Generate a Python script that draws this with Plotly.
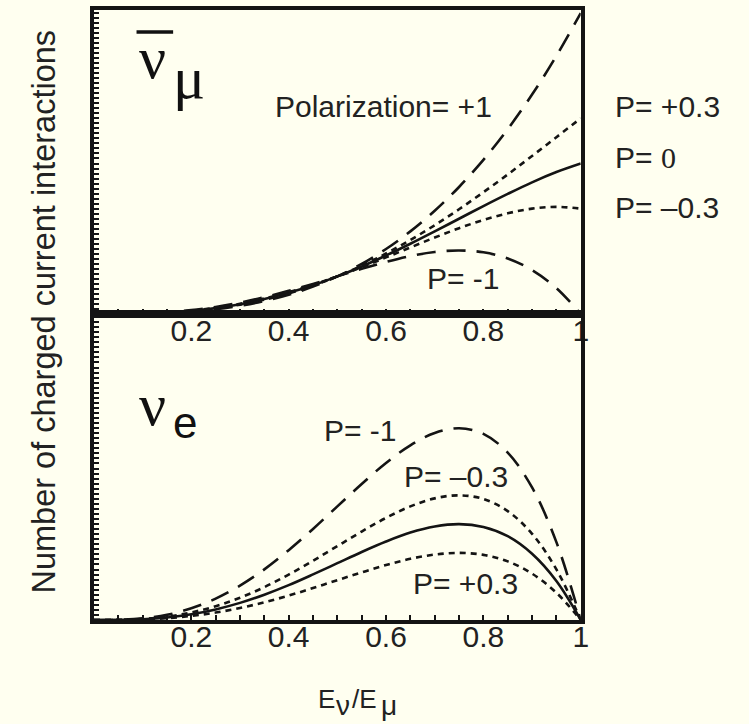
import plotly.graph_objects as go

# Neutrino energy fraction E_nu / E_mu
x_frac = [0.0, 0.05, 0.1, 0.15, 0.2, 0.25, 0.3, 0.35, 0.4, 0.45, 0.5,
          0.55, 0.6, 0.65, 0.7, 0.75, 0.8, 0.85, 0.9, 0.95, 1.0]

# anti-nu_mu charged current interactions for several muon polarizations
numubar_p_plus1 = [0, 0, 0.002, 0.007, 0.016, 0.031, 0.054, 0.086, 0.128, 0.182, 0.25,
                   0.333, 0.432, 0.549, 0.686, 0.844, 1.024, 1.228, 1.458, 1.715, 2.0]
numubar_p_plus03 = [0, 0, 0.003, 0.008, 0.019, 0.037, 0.062, 0.095, 0.137, 0.189, 0.25,
                    0.321, 0.402, 0.492, 0.59, 0.696, 0.809, 0.927, 1.05, 1.175, 1.3]
numubar_p_zero = [0, 0, 0.003, 0.009, 0.021, 0.039, 0.065, 0.099, 0.141, 0.191, 0.25,
                  0.316, 0.389, 0.467, 0.549, 0.633, 0.717, 0.798, 0.875, 0.943, 1.0]
numubar_p_minus03 = [0, 0, 0.003, 0.01, 0.022, 0.041, 0.068, 0.103, 0.145, 0.194, 0.25,
                     0.311, 0.376, 0.442, 0.508, 0.57, 0.625, 0.669, 0.7, 0.712, 0.7]
numubar_p_minus1 = [0, 0.001, 0.004, 0.012, 0.026, 0.047, 0.076, 0.112, 0.154, 0.2, 0.25,
                    0.3, 0.346, 0.385, 0.412, 0.422, 0.41, 0.369, 0.292, 0.172, 0]

# nu_e charged current interactions
nue_p_minus1 = [0, 0.001, 0.011, 0.034, 0.077, 0.141, 0.227, 0.334, 0.461, 0.601, 0.75,
                0.898, 1.037, 1.153, 1.235, 1.266, 1.229, 1.105, 0.875, 0.514, 0]
nue_p_minus03 = [0, 0.001, 0.007, 0.022, 0.05, 0.091, 0.147, 0.217, 0.3, 0.391, 0.488,
                 0.584, 0.674, 0.75, 0.803, 0.823, 0.799, 0.719, 0.569, 0.334, 0]
nue_p_zero = [0, 0.001, 0.005, 0.017, 0.038, 0.07, 0.113, 0.167, 0.23, 0.301, 0.375,
              0.449, 0.518, 0.577, 0.617, 0.633, 0.614, 0.553, 0.437, 0.257, 0]
nue_p_plus03 = [0, 0, 0.004, 0.012, 0.027, 0.049, 0.079, 0.117, 0.161, 0.211, 0.263,
                0.314, 0.363, 0.404, 0.432, 0.443, 0.43, 0.387, 0.306, 0.18, 0]

# x axis ticks (minor every 0.05, labelled every 0.2)
x_tick_vals = [0.05, 0.1, 0.15, 0.2, 0.25, 0.3, 0.35, 0.4, 0.45, 0.5,
               0.55, 0.6, 0.65, 0.7, 0.75, 0.8, 0.85, 0.9, 0.95, 1.0]
x_tick_text = [" ", " ", " ", "0.2", " ", " ", " ", "0.4", " ", " ",
               " ", "0.6", " ", " ", " ", "0.8", " ", " ", " ", "1"]

W, H = 749, 724
BG = "#FFFFF0"
INK = "#141414"
TEXT = "#222222"
SANS = "Liberation Sans, Arial, Helvetica, sans-serif"
SERIF = "Liberation Serif, Times New Roman, serif"

LONG_DASH = "19px,11px"
SHORT_DASH = "6px,5px"


def px(xp):
    return xp / W


def py(yp):
    return 1 - yp / H


fig = go.Figure()

top_curves = [
    (numubar_p_plus1, LONG_DASH),
    (numubar_p_plus03, SHORT_DASH),
    (numubar_p_zero, "solid"),
    (numubar_p_minus03, SHORT_DASH),
    (numubar_p_minus1, LONG_DASH),
]
bottom_curves = [
    (nue_p_minus1, LONG_DASH),
    (nue_p_minus03, SHORT_DASH),
    (nue_p_zero, "solid"),
    (nue_p_plus03, SHORT_DASH),
]

for ys, dash in top_curves:
    fig.add_trace(go.Scatter(x=x_frac, y=ys, mode="lines", xaxis="x", yaxis="y",
                             line=dict(color=INK, width=2.6, dash=dash, shape="spline"),
                             showlegend=False, hoverinfo="skip"))
for ys, dash in bottom_curves:
    fig.add_trace(go.Scatter(x=x_frac, y=ys, mode="lines", xaxis="x2", yaxis="y2",
                             line=dict(color=INK, width=2.6, dash=dash, shape="spline"),
                             showlegend=False, hoverinfo="skip"))

x_domain = [px(95), px(587)]
axis_common = dict(showline=True, linewidth=3.5, linecolor=INK, mirror=True,
                   showgrid=False, zeroline=False)
x_common = dict(axis_common, range=[0, 1], tickmode="array", tickvals=x_tick_vals,
                ticktext=x_tick_text, ticks="inside", ticklen=5, tickwidth=2,
                tickcolor=INK, tickangle=0,
                tickfont=dict(family=SANS, size=30, color=TEXT),
                ticklabelstandoff=-13, domain=x_domain)
y_common = dict(axis_common, range=[0, 2.02], tick0=0, dtick=1 / 30, ticks="inside",
                ticklen=5, tickwidth=2, tickcolor=INK, showticklabels=False)

fig.update_layout(
    width=W, height=H,
    margin=dict(l=0, r=0, t=0, b=0),
    paper_bgcolor=BG, plot_bgcolor=BG,
    xaxis=dict(x_common, anchor="y"),
    yaxis=dict(y_common, domain=[py(314), py(10)], anchor="x"),
    xaxis2=dict(x_common, anchor="y2"),
    yaxis2=dict(y_common, domain=[py(620), py(314)], anchor="x2"),
)

label_font = dict(family=SANS, size=30, color=TEXT)


def label(text, left, cy, font=label_font):
    fig.add_annotation(text=text, x=px(left), y=py(cy), xref="paper", yref="paper",
                       xanchor="left", yanchor="middle", showarrow=False, font=font,
                       borderpad=0, borderwidth=0)


# curve labels
label("Polarization= +1", 278, 107)
label("P= +0.3", 622, 106)
label(f'P= <span style="font-family:{SERIF}">0</span>', 622, 158)
label("P= \u20130.3", 622, 208)
label("P= -1", 432, 278)
label("P= -1", 327, 430)
label("P= \u20130.3", 408, 476)
label("P= +0.3", 417, 583)

# flavour symbols
greek_font = dict(family=SERIF, size=60, color="#111111")
label("\u03bd", 141, 58, greek_font)
label("\u03bc", 175, 78, greek_font)
fig.add_shape(type="line", xref="paper", yref="paper",
              x0=px(138), x1=px(175), y0=py(32), y1=py(32),
              line=dict(color="#111111", width=3.5))
label("\u03bd", 141, 405, greek_font)
label("e", 175, 422, dict(family=SANS, size=44, color="#111111"))

# x axis title E_nu / E_mu, built from pieces so the subscripts can be sized
title_font = dict(family=SANS, size=26, color=TEXT)
sub_font = dict(family=SANS, size=28, color=TEXT)
label("E", 321, 699, title_font)
label("\u03bd", 340, 705, sub_font)
label("/E", 356, 699, title_font)
label("\u03bc", 385, 705, sub_font)

# y axis title
fig.add_annotation(text="Number of charged current interactions", x=px(44), y=py(312),
                   xref="paper", yref="paper", xanchor="center", yanchor="middle",
                   textangle=-90, showarrow=False,
                   font=dict(family=SANS, size=32.5, color=TEXT))

fig.write_html("out.html")
